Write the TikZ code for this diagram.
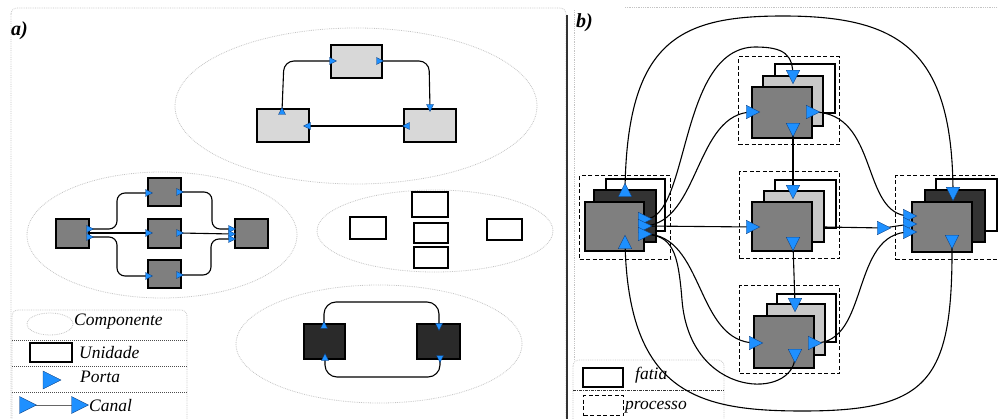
\documentclass[tikz,border=0pt]{standalone}
\usepackage{fontspec}
\setmainfont{Liberation Serif}
\usetikzlibrary{shapes.geometric}
\definecolor{frm}{HTML}{C4C4C4}
\definecolor{lgt}{HTML}{D8D8D8}
\definecolor{midg}{HTML}{7F7F7F}
\definecolor{blk}{HTML}{2A2A2A}
\definecolor{dkb}{HTML}{333333}
\definecolor{lg2}{HTML}{C8C8C8}
\definecolor{pblue}{HTML}{1E90FF}
\definecolor{pedge}{HTML}{0E3C7A}
\tikzset{
  portR/.pic={\path[fill=pblue,draw=pedge,line width=0.4pt] (-5,-5) -- (5,0) -- (-5,5) -- cycle;},
  portL/.pic={\path[fill=pblue,draw=pedge,line width=0.4pt] (5,-5) -- (-5,0) -- (5,5) -- cycle;},
  portD/.pic={\path[fill=pblue,draw=pedge,line width=0.4pt] (-5,-5) -- (5,-5) -- (0,5) -- cycle;},
  portU/.pic={\path[fill=pblue,draw=pedge,line width=0.4pt] (-5,5) -- (5,5) -- (0,-5) -- cycle;},
}
\begin{document}
\begin{tikzpicture}[x=1pt,y=-1pt,
  bx/.style={draw=black, line width=1.2pt, inner sep=0pt, outer sep=0pt, anchor=north west},
  comp/.style={ellipse, draw=frm, densely dotted, line width=0.8pt, inner sep=0pt},
  chan/.style={draw=black, line width=1.1pt},
  proc/.style={draw=black, line width=1.1pt, dash pattern=on 4pt off 2.5pt, inner sep=0pt, anchor=north west},
  sepline/.style={draw=black!70, line width=0.7pt, dash pattern=on 1pt off 1pt},
  lbl/.style={font=\fontsize{17.5}{17.5}\selectfont\itshape, inner sep=0pt, anchor=west},
  ttl/.style={font=\fontsize{20}{20}\selectfont\bfseries\itshape, inner sep=0pt, anchor=west},
  small/.style={scale=0.7},
  big/.style={scale=1.35}
]
\useasboundingbox (0,0) rectangle (998,419);

% ================= panel a =================
\draw[frm, densely dotted, line width=0.8pt, rounded corners=6] (11,8) rectangle (566,430);
\draw[black!80, line width=1.5pt] (567,15) -- (567,419);
\node[ttl] (la) at (11,31) {a)};

% top component
\node[comp, minimum width=362, minimum height=156] (e1) at (356,106) {};
\node[bx, fill=lgt, minimum width=51, minimum height=33] (ta) at (331,45) {};
\node[bx, fill=lgt, minimum width=52, minimum height=33] (tb) at (257,109) {};
\node[bx, fill=lgt, minimum width=52, minimum height=33] (tc) at (404,109) {};
\coordinate (pa1) at (333,61);
\coordinate (pa2) at (380,61);
\coordinate (pa3) at (282,111);
\coordinate (pa4) at (307,126);
\coordinate (pa5) at (406,126);
\coordinate (pa6) at (430,108);
\draw[chan, rounded corners=10] (pa3) -- (284,61) -- (pa1);
\draw[chan, rounded corners=10] (pa2) -- (429,61) -- (pa6);
\draw[chan] (pa4) -- (pa5);
\pic[small] at (pa1) {portR};
\pic[small] at (pa2) {portR};
\pic[small] at (pa3) {portU};
\pic[small] at (pa4) {portL};
\pic[small] at (pa5) {portL};
\pic[small] at (pa6) {portD};

% middle-left component
\node[comp, minimum width=270, minimum height=126] (e2) at (162,235) {};
\node[bx, fill=midg, minimum width=33, minimum height=29] (ma) at (56,219) {};
\node[bx, fill=midg, minimum width=33, minimum height=28] (mb) at (148,178) {};
\node[bx, fill=midg, minimum width=33, minimum height=29] (mc) at (148,219) {};
\node[bx, fill=midg, minimum width=33, minimum height=28] (md) at (148,260) {};
\node[bx, fill=midg, minimum width=33, minimum height=29] (me) at (235,219) {};
\coordinate (q1) at (90,229);
\coordinate (q2) at (90,237);
\coordinate (q12) at (90,233);
\coordinate (q3) at (149,193);
\coordinate (q4) at (180,192);
\coordinate (q5) at (149,233);
\coordinate (q6) at (180,233);
\coordinate (q7) at (149,276);
\coordinate (q8) at (180,275);
\coordinate (q9) at (232,229);
\coordinate (q10) at (232,234);
\coordinate (q11) at (232,239);
\draw[chan, rounded corners=8] (q1) -- (117,229) -- (117,193) -- (q3);
\draw[chan] (q12) -- (q5);
\draw[chan, rounded corners=8] (q2) -- (117,237) -- (117,276) -- (q7);
\draw[chan, rounded corners=8] (q4) -- (212,192) -- (212,229) -- (q9);
\draw[chan] (q6) -- (q10);
\draw[chan, rounded corners=8] (q8) -- (211,275) -- (211,239) -- (q11);
\foreach \p in {q1,q2,q3,q4,q5,q6,q7,q8,q9,q10,q11} {\pic[small] at (\p) {portR};}

% middle-right component
\node[comp, minimum width=236, minimum height=82] (e3) at (435,231) {};
\node[bx, fill=white, minimum width=36, minimum height=22] (wa) at (350,217) {};
\node[bx, fill=white, minimum width=36, minimum height=25] (wb) at (412,192) {};
\node[bx, fill=white, minimum width=34, minimum height=20] (wc) at (414,223) {};
\node[bx, fill=white, minimum width=34, minimum height=21] (wd) at (414,247) {};
\node[bx, fill=white, minimum width=35, minimum height=21] (we) at (487,219) {};

% bottom component
\node[comp, minimum width=286, minimum height=118] (e4) at (379,344) {};
\node[bx, fill=blk, minimum width=41, minimum height=35] (ba) at (304,324) {};
\node[bx, fill=blk, minimum width=43, minimum height=35] (bb) at (417,324) {};
\coordinate (r1) at (324,325);
\coordinate (r2) at (325,357);
\coordinate (r3) at (439,327);
\coordinate (r4) at (440,359);
\draw[chan, rounded corners=12] (r1) -- (324,302) -- (439,302) -- (r3);
\draw[chan, rounded corners=12] (r2) -- (325,377) -- (440,377) -- (r4);
\pic[small] at (r1) {portU};
\pic[small] at (r2) {portU};
\pic[small] at (r3) {portD};
\pic[small] at (r4) {portD};

% legend a
\draw[frm, densely dotted, line width=0.8pt, rounded corners=6] (12,310) rectangle (187,430);
\node[comp, minimum width=46, minimum height=22] (le) at (50,324) {};
\node[lbl] (lt1) at (74,322) {Componente};
\draw[sepline] (12,340) -- (187,340);
\node[bx, fill=white, minimum width=42, minimum height=19] (lu) at (30,343) {};
\node[lbl] (lt2) at (79,353) {Unidade};
\draw[sepline] (12,366) -- (187,366);
\coordinate (lp) at (52,380);
\pic[scale=1.8] at (lp) {portR};
\node[lbl] (lt3) at (80,377) {Porta};
\draw[sepline] (12,392) -- (187,392);
\coordinate (lc1) at (28,405);
\coordinate (lc2) at (80,405);
\draw[black!60, line width=0.6pt] (lc1) -- (lc2);
\pic[scale=1.7] at (lc1) {portR};
\pic[scale=1.7] at (lc2) {portR};
\node[lbl] (lt4) at (89,406) {Canal};

% ================= panel b =================
\draw[frm, densely dotted, line width=0.8pt] (574,360) -- (574,10);
\draw[frm, densely dotted, line width=0.8pt] (625,7) -- (998,7);
\node[ttl] (lb) at (576,23) {b)};

% legend b
\draw[frm, densely dotted, line width=0.8pt, rounded corners=6] (573,360) rectangle (724,430);
\draw[black!80, line width=0.8pt, dash pattern=on 3pt off 1pt on 1pt off 1pt] (573,390) -- (724,390);
\node[bx, fill=white, minimum width=40, minimum height=19] (lf) at (583,368) {};
\node[lbl] (lt5) at (635,375) {fatia};
\node[proc, minimum width=40, minimum height=20] (lpr) at (583,395) {};
\node[lbl] (lt6) at (625,407) {processo};

% processes: dashed frame, three stacked copies
% top
\node[proc, minimum width=101, minimum height=88] (Tp) at (738,56) {};
\node[bx, fill=white, minimum width=60, minimum height=49] (T3) at (775,64) {};
\node[bx, fill=lg2, minimum width=60, minimum height=50] (T2) at (763,76) {};
\node[bx, fill=midg, minimum width=60, minimum height=51] (T1) at (752,87) {};
% middle
\node[proc, minimum width=100, minimum height=87] (Mp) at (739,171) {};
\node[bx, fill=white, minimum width=61, minimum height=48] (M3) at (775,180) {};
\node[bx, fill=lg2, minimum width=60, minimum height=51] (M2) at (764,191) {};
\node[bx, fill=midg, minimum width=60, minimum height=49] (M1) at (752,202) {};
% bottom
\node[proc, minimum width=100, minimum height=88] (Bp) at (739,285) {};
\node[bx, fill=white, minimum width=59, minimum height=48] (B3) at (777,294) {};
\node[bx, fill=lg2, minimum width=58, minimum height=51] (B2) at (767,304) {};
\node[bx, fill=midg, minimum width=60, minimum height=52] (B1) at (754,316) {};
% left
\node[proc, minimum width=91, minimum height=84] (Lp) at (579,175) {};
\node[bx, fill=white, minimum width=59, minimum height=52] (L3) at (606,179) {};
\node[bx, fill=dkb, minimum width=62, minimum height=52] (L2) at (594,190) {};
\node[bx, fill=midg, minimum width=59, minimum height=49] (L1) at (585,202) {};
% right
\node[proc, minimum width=115, minimum height=84] (Rp) at (895,175) {};
\node[bx, fill=white, minimum width=61, minimum height=52] (R3) at (936,179) {};
\node[bx, fill=dkb, minimum width=60, minimum height=52] (R2) at (925,190) {};
\node[bx, fill=midg, minimum width=60, minimum height=50] (R1) at (912,202) {};

% port coordinates
\coordinate (tL) at (753,112);
\coordinate (tR) at (813,112);
\coordinate (tT) at (793,77);
\coordinate (tB) at (793,130);
\coordinate (mL) at (753,227);
\coordinate (mT) at (793,192);
\coordinate (mB) at (793,244);
\coordinate (mO) at (824,227);
\coordinate (bL) at (756,343);
\coordinate (bR) at (815,343);
\coordinate (bT) at (795,305);
\coordinate (bB) at (795,356);
\coordinate (lT) at (625,190);
\coordinate (lB) at (625,242);
\coordinate (lR1) at (645,219);
\coordinate (lR2) at (645,226);
\coordinate (lR3) at (645,234);
\coordinate (rT) at (953,194);
\coordinate (rB) at (952,242);
\coordinate (rL1) at (910,216);
\coordinate (rL2) at (910,224);
\coordinate (rL3) at (910,232);
\coordinate (xt) at (884,228);

% channels
\draw[chan] (lT) .. controls (627,40) and (680,16) .. (783,16) .. controls (900,16) and (953,50) .. (rT);
\draw[chan] (lB) .. controls (628,395) and (700,411) .. (803,411) .. controls (930,411) and (953,380) .. (rB);
\draw[chan] (lR1) .. controls (690,219) and (678,48) .. (755,47) .. controls (785,47) and (793,55) .. (tT);
\draw[chan] (lR2) .. controls (700,222) and (695,112) .. (tL);
\draw[chan] (lR2) -- (mL);
\draw[chan] (lR3) .. controls (705,234) and (695,343) .. (bL);
\draw[chan] (bB) .. controls (795,400) and (690,400) .. (682,300) .. controls (678,250) and (672,236) .. (lR3);
\draw[chan] (tR) .. controls (880,112) and (860,216) .. (rL1);
\draw[chan] (bR) .. controls (870,343) and (850,232) .. (rL3);
\draw[chan] (mO) -- (xt) -- (rL2);
\draw[chan] (tB) -- (mT);
\draw[chan] (mB) -- (bT);

% ports
\pic[big] at (tL) {portR};
\pic[big] at (tR) {portR};
\pic[big] at (tT) {portD};
\pic[big] at (tB) {portD};
\pic[big] at (mL) {portR};
\pic[big] at (mT) {portD};
\pic[big] at (mB) {portD};
\pic[big] at (bL) {portR};
\pic[big] at (bR) {portR};
\pic[big] at (bT) {portD};
\pic[big] at (bB) {portD};
\pic[big] at (lT) {portU};
\pic[big] at (lB) {portU};
\pic[big] at (lR1) {portR};
\pic[big] at (lR2) {portR};
\pic[big] at (lR3) {portR};
\pic[big] at (rT) {portD};
\pic[big] at (rB) {portD};
\pic[big] at (rL1) {portR};
\pic[big] at (rL2) {portR};
\pic[big] at (rL3) {portR};
\pic[big] at (xt) {portR};
\end{tikzpicture}
\end{document}
